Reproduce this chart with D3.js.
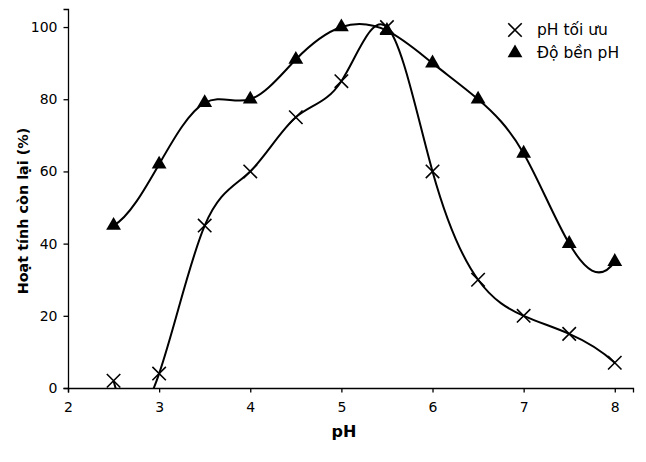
<!DOCTYPE html>
<html>
<head>
<meta charset="utf-8">
<script src="https://cdn.jsdelivr.net/npm/d3@7"></script>
<style>
  body { margin: 0; background: #fff; }
  text { font-family: 'DejaVu Sans', sans-serif; }
</style>
</head>
<body>
<div id="chart"></div>
<script>
// data
const phValues = [2.5, 3, 3.5, 4, 4.5, 5, 5.5, 6, 6.5, 7, 7.5, 8]
const optimumPH = [2, 4, 45, 60, 75, 85, 100, 60, 30, 20, 15, 7]
const stabilityPH = [45, 62, 79, 80, 91, 100, 99, 90, 80, 65, 40, 35]
const xTicks = [2, 3, 4, 5, 6, 7, 8]
const yTicks = [0, 20, 40, 60, 80, 100]
const seriesNames = ['pH tối ưu', 'Độ bền pH']

const W = 646, H = 462
const m = {left: 68, right: 13, top: 9, bottom: 74}

const svg = d3.select('#chart').append('svg')
  .attr('width', W).attr('height', H)

const x = d3.scaleLinear().domain([2, 8.2]).range([m.left, W - m.right])
const y = d3.scaleLinear().domain([0, 105]).range([H - m.bottom, m.top])

svg.append('defs').append('clipPath').attr('id', 'plot')
  .append('rect')
  .attr('x', m.left).attr('y', m.top)
  .attr('width', W - m.left - m.right).attr('height', H - m.top - m.bottom)

// axes
const xAxis = svg.append('g')
  .attr('transform', `translate(0,${H - m.bottom})`)
  .call(d3.axisBottom(x).tickValues(xTicks).tickSize(4.5).tickPadding(9.5).tickFormat(d3.format('d')))
const yAxis = svg.append('g')
  .attr('transform', `translate(${m.left},0)`)
  .call(d3.axisLeft(y).tickValues(yTicks).tickSize(4.5).tickPadding(6).tickFormat(d3.format('d')))
;[xAxis, yAxis].forEach(a => {
  a.selectAll('text').attr('font-size', 14).attr('fill', '#000').style('font-family', 'DejaVu Sans')
  a.selectAll('line, path').attr('stroke', '#000').attr('stroke-width', 1.3)
})

svg.append('text')
  .attr('x', 344).attr('y', 437)
  .attr('text-anchor', 'middle')
  .attr('font-size', 16).attr('font-weight', 'bold')
  .text('pH')
svg.append('text')
  .attr('transform', 'translate(28,211) rotate(-90)')
  .attr('text-anchor', 'middle')
  .attr('font-size', 14.4).attr('font-weight', 'bold')
  .text('Hoạt tính còn lại (%)')

// cubic spline with not-a-knot ends, emitted as bezier segments
function curveNotAKnot (context) {
  let xs = [], ys = []
  return {
    areaStart () {},
    areaEnd () {},
    lineStart () { xs = []; ys = [] },
    point (px, py) { xs.push(+px); ys.push(+py) },
    lineEnd () {
      const n = xs.length
      if (n < 4) {
        xs.forEach((v, i) => i ? context.lineTo(v, ys[i]) : context.moveTo(v, ys[i]))
        return
      }
      const h = d3.range(n - 1).map(i => xs[i + 1] - xs[i])
      const A = d3.range(n).map(() => new Array(n).fill(0))
      const b = new Array(n).fill(0)
      A[0][0] = -h[1]; A[0][1] = h[0] + h[1]; A[0][2] = -h[0]
      for (let i = 1; i < n - 1; i++) {
        A[i][i - 1] = h[i - 1]
        A[i][i] = 2 * (h[i - 1] + h[i])
        A[i][i + 1] = h[i]
        b[i] = 6 * ((ys[i + 1] - ys[i]) / h[i] - (ys[i] - ys[i - 1]) / h[i - 1])
      }
      A[n - 1][n - 3] = -h[n - 2]; A[n - 1][n - 2] = h[n - 3] + h[n - 2]; A[n - 1][n - 1] = -h[n - 3]
      // gaussian elimination with pivoting
      for (let c = 0; c < n; c++) {
        let p = c
        for (let r = c + 1; r < n; r++) if (Math.abs(A[r][c]) > Math.abs(A[p][c])) p = r
        ;[A[c], A[p]] = [A[p], A[c]]; [b[c], b[p]] = [b[p], b[c]]
        for (let r = c + 1; r < n; r++) {
          const f = A[r][c] / A[c][c]
          for (let k = c; k < n; k++) A[r][k] -= f * A[c][k]
          b[r] -= f * b[c]
        }
      }
      const M = new Array(n).fill(0)
      for (let r = n - 1; r >= 0; r--) {
        let s = b[r]
        for (let k = r + 1; k < n; k++) s -= A[r][k] * M[k]
        M[r] = s / A[r][r]
      }
      const slope = d3.range(n).map(i => i < n - 1
        ? (ys[i + 1] - ys[i]) / h[i] - h[i] * (2 * M[i] + M[i + 1]) / 6
        : (ys[i] - ys[i - 1]) / h[i - 1] + h[i - 1] * (M[i - 1] + 2 * M[i]) / 6)
      context.moveTo(xs[0], ys[0])
      for (let i = 0; i < n - 1; i++) {
        const d = h[i] / 3
        context.bezierCurveTo(xs[i] + d, ys[i] + slope[i] * d,
          xs[i + 1] - d, ys[i + 1] - slope[i + 1] * d, xs[i + 1], ys[i + 1])
      }
    }
  }
}

const line = d3.line()
  .x(d => x(d[0])).y(d => y(d[1]))
  .curve(curveNotAKnot)

const optPts = phValues.map((p, i) => [p, optimumPH[i]])
const stabPts = phValues.map((p, i) => [p, stabilityPH[i]])

const plot = svg.append('g').attr('clip-path', 'url(#plot)')
;[optPts, stabPts].forEach(pts => {
  plot.append('path')
    .attr('d', line(pts))
    .attr('fill', 'none')
    .attr('stroke', '#000')
    .attr('stroke-width', 2)
})

// markers
const cross = d3.symbol().type(d3.symbolX).size(120)
const tri = d3.symbol().type(d3.symbolTriangle).size(95)

svg.append('g').selectAll('path')
  .data(stabPts).enter().append('path')
  .attr('d', tri)
  .attr('transform', d => `translate(${x(d[0])},${y(d[1])})`)
  .attr('fill', '#000')

svg.append('g').selectAll('path')
  .data(optPts).enter().append('path')
  .attr('d', cross)
  .attr('transform', d => `translate(${x(d[0])},${y(d[1])})`)
  .attr('fill', 'none')
  .attr('stroke', '#000')
  .attr('stroke-width', 1.6)

// legend
const legend = svg.append('g').attr('transform', 'translate(515,30)')
const items = legend.selectAll('.legend')
  .data(seriesNames).enter().append('g')
  .attr('class', 'legend')
  .attr('transform', (d, i) => `translate(0,${i * 23})`)
items.append('path')
  .attr('d', (d, i) => i === 0 ? cross() : tri())
  .attr('fill', (d, i) => i === 0 ? 'none' : '#000')
  .attr('stroke', (d, i) => i === 0 ? '#000' : 'none')
  .attr('stroke-width', 1.6)
items.append('text')
  .attr('x', 22).attr('y', 0)
  .attr('dominant-baseline', 'central')
  .attr('font-size', 15.5)
  .text(d => d)
</script>
</body>
</html>
